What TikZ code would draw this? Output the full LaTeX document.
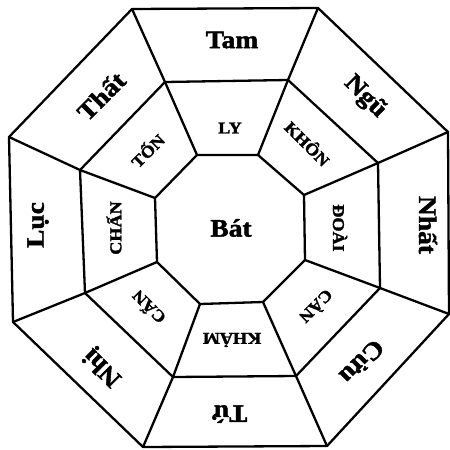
\documentclass[tikz,border=0pt]{standalone}
\usepackage{fontspec}
\setmainfont{Liberation Serif}
\newfontfamily\labfont[FakeStretch=1.1,BoldFeatures={FakeBold=1.8}]{Liberation Serif}
\begin{document}
\begin{tikzpicture}[x=1pt,y=-1pt,line join=round,
  edge/.style={draw=black,line width=2.3pt},
  outer/.style={font=\labfont\fontsize{25}{27}\selectfont\bfseries,inner sep=0pt},
  mid/.style={font=\labfont\fontsize{16.5}{18}\selectfont\bfseries,inner sep=0pt},
  center/.style={font=\labfont\fontsize{25}{27}\selectfont\bfseries,inner sep=0pt}]
\useasboundingbox (0,0) rectangle (450,450);
% outer octagon
\coordinate (o1) at (132,9);
\coordinate (o2) at (318,8);
\coordinate (o3) at (448,132);
\coordinate (o4) at (449,314);
\coordinate (o5) at (327,446);
\coordinate (o6) at (143,447);
\coordinate (o7) at (13,322);
\coordinate (o8) at (9,137);
% middle octagon
\coordinate (m1) at (165,82);
\coordinate (m2) at (288,80);
\coordinate (m3) at (378,163);
\coordinate (m4) at (380,288);
\coordinate (m5) at (296,376);
\coordinate (m6) at (173,377);
\coordinate (m7) at (85,293);
\coordinate (m8) at (80,170);
% inner octagon
\coordinate (i1) at (197,155);
\coordinate (i2) at (258,155);
\coordinate (i3) at (304,195);
\coordinate (i4) at (305,260);
\coordinate (i5) at (263,302);
\coordinate (i6) at (200,304);
\coordinate (i7) at (157,262);
\coordinate (i8) at (155,198);
\draw[edge] (o1)--(o2)--(o3)--(o4)--(o5)--(o6)--(o7)--(o8)--cycle;
\draw[edge] (m1)--(m2)--(m3)--(m4)--(m5)--(m6)--(m7)--(m8)--cycle;
\draw[edge] (i1)--(i2)--(i3)--(i4)--(i5)--(i6)--(i7)--(i8)--cycle;
\foreach \k in {1,...,8}{\draw[edge] (o\k)--(m\k)--(i\k);}
% outer labels
\node[outer] (tam) at (232,40) {Tam};
\node[outer,rotate=-45] (ngu) at (365,97) {Ngũ};
\node[outer,rotate=-90] (nhat) at (428,225) {Nhất};
\node[outer,rotate=-135] (cuu) at (362,362) {Cửu};
\node[outer,rotate=180] (tu) at (230,414) {Tứ};
\node[outer,rotate=135] (nhi) at (103,367) {Nhị};
\node[outer,rotate=90] (luc) at (38,225) {Lục};
\node[outer,rotate=45] (that) at (101,96) {Thất};
% middle labels
\node[mid] (ly) at (230,128) {LY};
\node[mid,rotate=-45] (khon) at (308,143) {KHÔN};
\node[mid,rotate=-90] (doai) at (340,228) {ĐOÀI};
\node[mid,rotate=-135] (can) at (317,307) {CÀN};
\node[mid,rotate=180] (kham) at (232,340) {KHẢM};
\node[mid,rotate=135] (can2) at (148,308) {CẤN};
\node[mid,rotate=90] (chan) at (114,228) {CHẤN};
\node[mid,rotate=45] (ton) at (147,150) {TỐN};
\node[center] (bat) at (231,228) {Bát};
\end{tikzpicture}
\end{document}
